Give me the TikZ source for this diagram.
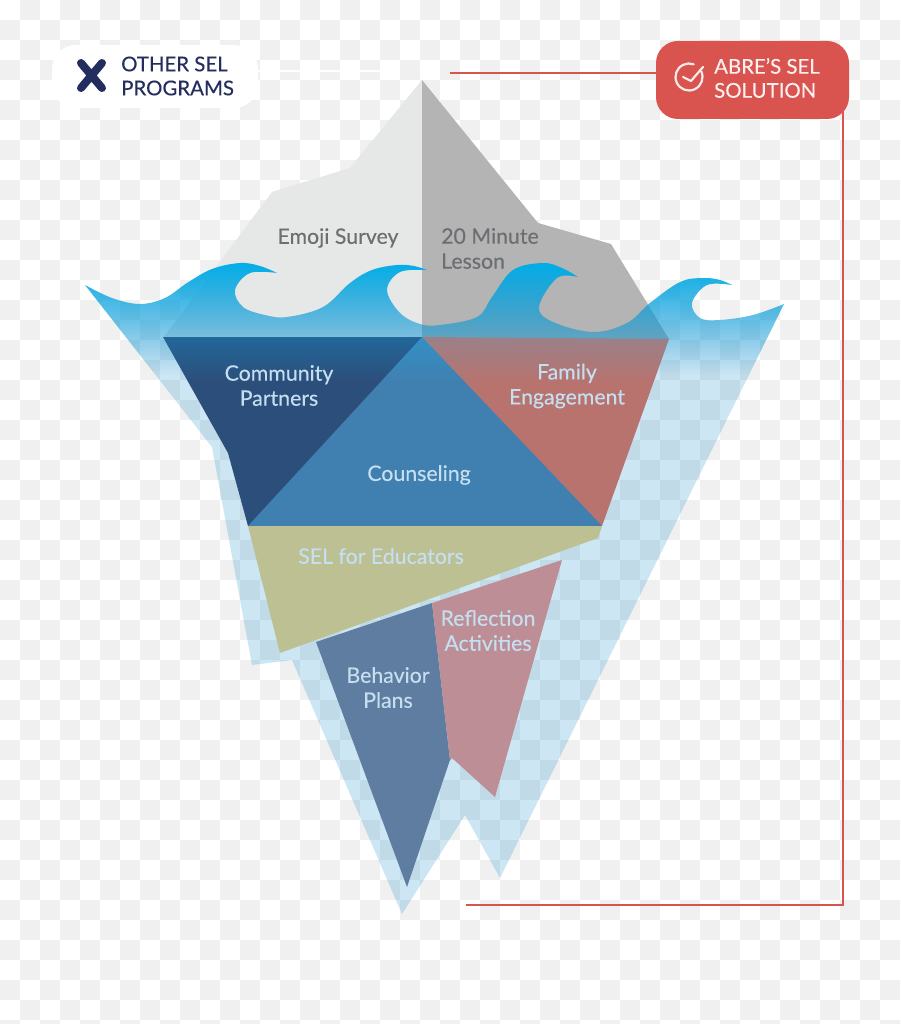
\documentclass[tikz,border=0pt]{standalone}
\usepackage{fontspec}
\setmainfont{Lato}
\newfontfamily\lblfont{Lato}[FakeBold=0.25]
\definecolor{chk}{HTML}{F0F0F0}
\definecolor{wavetop}{RGB}{0,174,232}
\definecolor{wavelow}{RGB}{0,130,200}
\definecolor{iceL}{HTML}{E6E7E7}
\definecolor{iceR}{HTML}{B4B4B4}
\definecolor{abre}{HTML}{D9534F}
\definecolor{navy}{HTML}{232E5E}
\definecolor{ltxt}{HTML}{C5DFF0}
\definecolor{gtxt}{HTML}{6D6E71}
\definecolor{comA}{HTML}{22679A}\definecolor{comB}{HTML}{2C4E7A}
\definecolor{couA}{HTML}{3390C5}\definecolor{couB}{HTML}{4080B0}
\definecolor{famA}{HTML}{9A8189}\definecolor{famB}{HTML}{B8736F}
\pgfdeclareverticalshading{comshade}{100bp}{color(0bp)=(comB); color(63bp)=(comB); color(75bp)=(comA); color(100bp)=(comA)}
\pgfdeclareverticalshading{coushade}{100bp}{color(0bp)=(couB); color(63bp)=(couB); color(75bp)=(couA); color(100bp)=(couA)}
\pgfdeclareverticalshading{famshade}{100bp}{color(0bp)=(famB); color(63bp)=(famB); color(75bp)=(famA); color(100bp)=(famA)}
\tikzset{
  lab/.style={inner sep=0pt,align=center,font=\lblfont\fontsize{21.3}{25}\selectfont,text=ltxt},
  gray lab/.style={lab,text=gtxt},
  pilltxt/.style={inner sep=0pt,align=left,font=\lblfont\fontsize{20.4}{24}\selectfont},
  redline/.style={draw=abre,line width=2.8pt},
}
\begin{document}
\begin{tikzpicture}[x=1pt,y=-1pt]
\useasboundingbox (0,0) rectangle (900,1024);
% checkerboard
\fill[white] (0,0) rectangle (900,1024);
\foreach \i in {0,...,44}{\foreach \j in {0,...,51}{
  \pgfmathtruncatemacro{\p}{mod(\i+\j,2)}
  \ifnum\p=1 \fill[chk] (20*\i,20*\j) rectangle (20*\i+20,20*\j+20);\fi
}}
% iceberg top
\fill[iceL] (422,80) -- (350,168) -- (272,192) -- (163,338) -- (422,338) -- cycle;
\fill[iceR] (422,80) -- (538,223) -- (611,244) -- (669,339) -- (422,339) -- cycle;
% water and submerged ice
\begin{scope}
\clip
  (85,285) -- plot[smooth,tension=.6] coordinates {(85,285) (112,298) (140,304) (165,298) (187,283) (212,269) (240,263) (260,266) (277,273)}
  -- plot[smooth,tension=.6] coordinates {(277,273) (250,273) (235,290) (243,307) (265,315) (287,317) (323,307) (350,283) (372,270) (397,265) (414,266) (427,270)}
  -- plot[smooth,tension=.6] coordinates {(427,270) (400,272) (387,290) (400,313) (420,324) (440,325) (477,317) (492,297) (513,270) (543,263) (562,268) (578,277)}
  -- plot[smooth,tension=.6] coordinates {(578,277) (557,278) (539,307) (553,322) (593,332) (627,323) (650,303) (680,282) (703,278) (720,280) (732,285)}
  -- plot[smooth,tension=.6] coordinates {(732,285) (707,285) (692,303) (700,318) (720,320) (753,315) (784,304)}
  -- (500,878) -- (465,815) -- (402,914) -- (292,660) -- (252,665) -- (212,447) -- cycle;
\foreach \k in {262,...,374}{
  \pgfmathsetmacro{\aval}{1-0.8*(\k-262)/113}
  \pgfmathsetmacro{\mixv}{100*(\k-262)/113}
  \fill[wavelow!\mixv!wavetop,opacity=\aval] (60,\k) rectangle (800,\k+1);
}
\fill[wavelow,opacity=.2] (60,375) rectangle (800,920);
\end{scope}
% panels
\fill[color={rgb,255:red,94;green,125;blue,160}] (316,642) -- (432,603) -- (450,760) -- (407,887) -- cycle;
\fill[color={rgb,255:red,189;green,142;blue,149}] (432,603) -- (562,560) -- (495,797) -- (452,758) -- (450,760) -- cycle;
\path[shading=comshade] (163,337) -- (422,337) -- (424,341) -- (252,526) -- (248,526) -- (228,453) -- cycle;
\path[shading=famshade] (423,337) -- (669,339) -- (602,526) -- (598,526) -- (421,339) -- cycle;
\path[shading=coushade] (422,337) -- (602,526) -- (248,526) -- cycle;
\fill[color={rgb,255:red,189;green,192;blue,146}] (248,526) -- (602,526) -- (598,538) -- (280,653) -- cycle;
% labels
\node[gray lab] (emoji) at (338,238) {Emoji Survey};
\node[gray lab,anchor=west,align=left] (lesson) at (441,248.5) {20 Minute\\Lesson};
\node[lab] (community) at (279,385.5) {Community\\Partners};
\node[lab] (family) at (567,386) {Family\\Engagement};
\node[lab] (counseling) at (419,475) {Counseling};
\node[lab] (educators) at (381,556) {SEL for Educators};
\node[lab] (reflection) at (488,630.5) {Reflection\\Activities};
\node[lab] (behavior) at (388,687.5) {Behavior\\Plans};
% left call-out
\coordinate (faintA) at (258,71);
\coordinate (faintB) at (380,71);
\draw[white,line width=1.6pt] (faintA) -- (faintB);
\node[fill=white,rounded corners=24pt,minimum width=206pt,minimum height=63pt,inner sep=0pt] (other) at (155,76.5) {};
\node[pilltxt,anchor=west,text=navy] (othertxt) at (121,76) {OTHER SEL\\PROGRAMS};
\draw[navy,line width=8pt,line cap=round] (81,63) -- (102,88) (102,63) -- (81,88);
% right call-out
\node[fill=abre,rounded corners=22pt,minimum width=193pt,minimum height=78pt,inner sep=0pt] (abrebox) at (752.5,80) {};
\node[pilltxt,anchor=west,text=white!92!abre] (abretxt) at (714,78) {ABRE’S SEL\\SOLUTION};
\draw[white!88!abre,line width=2.2pt,line cap=round] (689,77) ++(-25:13.5) arc[start angle=-25,end angle=290,radius=13.5];
\draw[white!88!abre,line width=2.2pt,line cap=round,line join=round] (683,77) -- (691,81) -- (703,67);
\coordinate (redA) at (450,73);
\coordinate (redB) at (843,905);
\coordinate (redC) at (466,905);
\draw[redline] (redA) -- (redA -| abrebox.west);
\draw[redline] ([yshift=10pt]abrebox.south -| redB) -- (redB) -- (redC);
\end{tikzpicture}
\end{document}
